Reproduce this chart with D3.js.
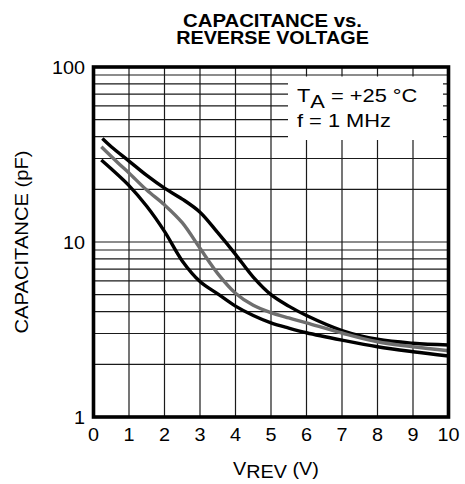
<!DOCTYPE html>
<html><head><meta charset="utf-8">
<script src="https://cdn.jsdelivr.net/npm/d3@7"></script>
<style>body{margin:0;background:#fff}svg{display:block}</style>
</head><body>
<svg id="c" width="465" height="484"></svg>
<script>
// ---- data ----
const titleLines = ["CAPACITANCE vs.", "REVERSE VOLTAGE"];
const yAxisTitle = "CAPACITANCE (pF)";
const xTickValues = [0,1,2,3,4,5,6,7,8,9,10];
const yTickValues = [1,10,100];
const yMinorMultipliers = [2,3,4,5,6,7,8,9];
const yDecades = [1,10];

const vUpper = [0.25,0.5,1,1.5,2,2.5,3,3.5,4,4.5,5,5.5,6,7,8,9,10];
const cUpper = [39,35,29,24,20.3,17.6,14.8,11.3,8.5,6.3,5.0,4.3,3.8,3.12,2.78,2.64,2.58];
const vTyp   = [0.22,0.7,1,1.5,2,2.5,3,3.5,4,4.5,5,5.5,6,7,8,9,10];
const cTyp   = [35,28.2,24.8,19.8,16.3,12.9,9.2,6.6,5.1,4.35,3.95,3.68,3.45,3.02,2.69,2.52,2.39];
const vLower = [0.22,1,1.5,2,2.5,3,3.5,4,4.5,5,5.5,6,7,8,9,10];
const cLower = [29.4,21,16,11.5,7.8,5.95,5.05,4.3,3.8,3.45,3.22,3.03,2.75,2.52,2.36,2.23];

// ---- drawing ----
const svg = d3.select("#c");
const font = "'Liberation Sans', Arial, Helvetica, sans-serif";
const x = d3.scaleLinear().domain([0,10]).range([93.5,448.5]);
const y = d3.scaleLog().domain([1,100]).range([417,67]);

svg.append("rect").attr("width",465).attr("height",484).attr("fill","#fff");

const grid = svg.append("g").attr("stroke","#1a1a1a").attr("stroke-width",1.2);
grid.selectAll("line.v").data(xTickValues.slice(1,-1)).join("line")
  .attr("x1",d=>x(d)).attr("x2",d=>x(d)).attr("y1",y(100)).attr("y2",y(1));
const minor = [];
yDecades.forEach(dec=>yMinorMultipliers.forEach(m=>minor.push(dec*m)));
minor.push(10);
grid.selectAll("line.h").data(minor).join("line")
  .attr("x1",x(0)).attr("x2",x(10)).attr("y1",d=>y(d)).attr("y2",d=>y(d));

// legend box (white, hides grid)
svg.append("rect").attr("x",288).attr("y",76.5).attr("width",155).attr("height",63.5).attr("fill","#fff");

// clip
svg.append("clipPath").attr("id","pc").append("rect")
  .attr("x",x(0)).attr("y",y(100)).attr("width",x(10)-x(0)).attr("height",y(1)-y(100));

const line = d3.line().x(d=>x(d[0])).y(d=>y(d[1])).curve(d3.curveCatmullRom.alpha(0.5));
const series = [
  {v:vUpper,c:cUpper,color:"#000"},
  {v:vLower,c:cLower,color:"#000"},
  {v:vTyp,c:cTyp,color:"#6e6e6e"}
];
const cg = svg.append("g").attr("clip-path","url(#pc)");
series.forEach(s=>{
  cg.append("path").datum(s.v.map((v,i)=>[v,s.c[i]]))
    .attr("d",line).attr("fill","none").attr("stroke",s.color)
    .attr("stroke-width",3.4).attr("stroke-linecap","butt");
});

// border
svg.append("rect").attr("x",x(0)).attr("y",y(100)).attr("width",x(10)-x(0)).attr("height",y(1)-y(100))
  .attr("fill","none").attr("stroke","#000").attr("stroke-width",3.6);

function stext(px,py,sx,anchor,size,weight){
  const g = svg.append("g").attr("transform",`translate(${px},${py}) scale(${sx},1)`);
  return g.append("text").attr("text-anchor",anchor).attr("font-family",font)
    .attr("font-size",size).attr("font-weight",weight||"normal").attr("fill","#000");
}

// title
stext(272.5,27,1.1,"middle",18.5,"bold").text(titleLines[0]);
stext(272.5,43.5,1.07,"middle",18.5,"bold").text(titleLines[1]);

// x ticks
xTickValues.forEach(v=>stext(x(v),440.5,1.1,"middle",18).text(v));
// y ticks
yTickValues.forEach(v=>stext(85,y(v)+6.5,1.1,"end",18).text(v));

// y title
const yt = svg.append("g").attr("transform",`translate(28.3,242) rotate(-90) scale(1.12,1)`);
yt.append("text").attr("text-anchor","middle").attr("font-family",font).attr("font-size",18).text(yAxisTitle);

// x title
const xt = stext(276,474.5,1.1,"middle",18);
xt.append("tspan").text("V");
xt.append("tspan").attr("dy",3.5).text("REV");
xt.append("tspan").attr("dy",-3.5).text(" (V)");

// legend text
const l1 = stext(297,101.7,1.18,"start",18.5);
l1.append("tspan").text("T");
l1.append("tspan").attr("dy",6).text("A");
l1.append("tspan").attr("dy",-6).text(" = +25 °C");
stext(297,127,1.18,"start",18.5).text("f = 1 MHz");
</script>
</body></html>
